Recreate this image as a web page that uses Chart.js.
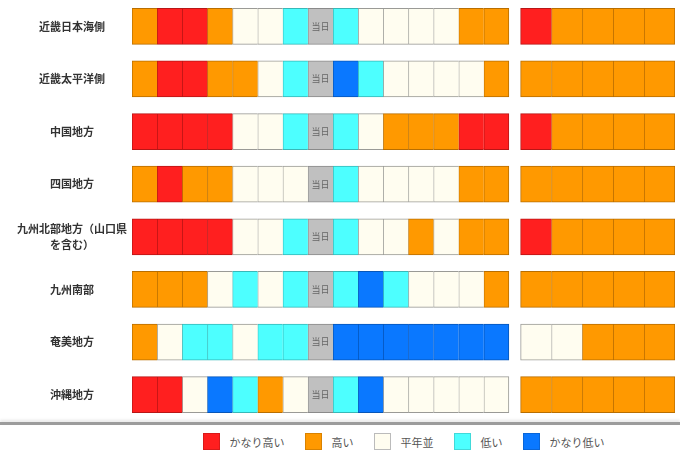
<!DOCTYPE html>
<html lang="ja">
<head>
<meta charset="utf-8">
<title>気温の傾向</title>
<script src="https://cdn.jsdelivr.net/npm/chart.js"></script>
<style>
  body { margin: 0; background: #fff; font-family: "Noto Sans CJK JP", "Noto Sans", sans-serif; }
  #wrap { position: relative; width: 680px; height: 421px; }
  #sep { width: 680px; height: 0; margin-top: 1px; border-top: 3px solid #9c9c9c; box-shadow: 0 -2px 3px #e6e6e6; }
  #legend { display: flex; justify-content: center; align-items: center; box-sizing: border-box;
            width: 680px; padding: 8px 5px 0 132px; }
  .item { display: flex; align-items: center; margin: 0 10px; }
  .box { width: 15px; height: 15px; border: 1px solid; margin-right: 10px; }
  .txt { font-size: 11px; color: #555; }
</style>
</head>
<body>
<div id="wrap"><canvas id="tempChart"></canvas></div>
<div id="sep"></div>
<div id="legend"></div>
<script>
// 地域
const regions = ['近畿日本海側', '近畿太平洋側', '中国地方', '四国地方',
  '九州北部地方（山口県を含む）', '九州南部', '奄美地方', '沖縄地方'];

// 階級 (5:かなり高い 4:高い 3:平年並 2:低い 1:かなり低い 0:当日)
const levelLabels = ['当日', 'かなり低い', '低い', '平年並', '高い', 'かなり高い'];
const levelColors = ['#c0c0c0', '#0a78ff', '#4dffff', '#fffdf0', '#ff9900', '#ff1f1f'];

// 日ごとの階級 (15日, 8列目が当日)
const dailyLevels = [
  [4, 5, 5, 4, 3, 3, 2, 0, 2, 3, 3, 3, 3, 4, 4],
  [4, 5, 5, 4, 4, 3, 2, 0, 1, 2, 3, 3, 3, 3, 4],
  [5, 5, 5, 5, 3, 3, 2, 0, 2, 3, 4, 4, 4, 5, 5],
  [4, 5, 4, 4, 3, 3, 3, 0, 2, 3, 3, 3, 3, 4, 4],
  [5, 5, 5, 5, 3, 3, 2, 0, 2, 3, 3, 4, 3, 4, 4],
  [4, 4, 4, 3, 2, 3, 2, 0, 2, 1, 2, 3, 3, 3, 4],
  [4, 3, 2, 2, 3, 2, 2, 0, 1, 1, 1, 1, 1, 1, 1],
  [5, 5, 3, 1, 2, 4, 3, 0, 2, 1, 3, 3, 3, 3, 3]
];

// 右側ブロックの階級 (5区分)
const periodLevels = [
  [5, 4, 4, 4, 4],
  [4, 4, 4, 4, 4],
  [5, 4, 4, 4, 4],
  [4, 4, 4, 4, 4],
  [5, 4, 4, 4, 4],
  [4, 4, 4, 4, 4],
  [3, 3, 4, 4, 4],
  [4, 4, 4, 4, 4]
];

const legendOrder = [5, 4, 3, 2, 1];

// layout of the two blocks in x units (one daily cell = 1)
const GAP = 0.466;
const RIGHT_W = 1.229;
const nDaily = dailyLevels[0].length;
const nPeriod = periodLevels[0].length;
const xMax = nDaily + GAP + nPeriod * RIGHT_W;

function darker(hex, f) {
  const n = parseInt(hex.slice(1), 16);
  const r = Math.round(((n >> 16) & 255) * f);
  const g = Math.round(((n >> 8) & 255) * f);
  const b = Math.round((n & 255) * f);
  return 'rgb(' + r + ',' + g + ',' + b + ')';
}

function makeColumn(levels, col, x0, x1, last) {
  const vals = levels.map(row => row[col]);
  return {
    data: regions.map(() => [x0, x1]),
    levels: vals,
    backgroundColor: vals.map(v => levelColors[v]),
    borderColor: vals.map(v => v === 3 ? '#9a9a96' : darker(levelColors[v], 0.72)),
    borderWidth: { left: 1, top: 1, bottom: 1, right: last ? 1 : 0 },
    borderSkipped: false,
    grouped: false,
    barThickness: 36
  };
}

const datasets = [];
for (let j = 0; j < nDaily; j++) {
  datasets.push(makeColumn(dailyLevels, j, j, j + 1, j === nDaily - 1));
}
for (let k = 0; k < nPeriod; k++) {
  const s = nDaily + GAP + k * RIGHT_W;
  datasets.push(makeColumn(periodLevels, k, s, s + RIGHT_W, k === nPeriod - 1));
}

// "当日" text on the gray cells
const todayLabel = {
  id: 'todayLabel',
  afterDatasetsDraw(chart) {
    const ctx = chart.ctx;
    ctx.save();
    ctx.font = '9px "Noto Sans CJK JP"';
    ctx.fillStyle = '#666';
    ctx.textAlign = 'center';
    ctx.textBaseline = 'middle';
    chart.data.datasets.forEach((ds, di) => {
      const meta = chart.getDatasetMeta(di);
      meta.data.forEach((bar, i) => {
        if (ds.levels[i] === 0) {
          const p = bar.getCenterPoint();
          ctx.fillText(levelLabels[0], p.x, p.y);
        }
      });
    });
    ctx.restore();
  }
};

const ctx = document.getElementById('tempChart').getContext('2d');
const chart = new Chart(ctx, {
  type: 'bar',
  data: { labels: regions, datasets: datasets },
  options: {
    indexAxis: 'y',
    responsive: true,
    maintainAspectRatio: false,
    animation: false,
    layout: { padding: { left: 0, right: 5, top: 0, bottom: 0 } },
    plugins: {
      legend: { display: false },
      tooltip: { enabled: false }
    },
    scales: {
      x: { type: 'linear', min: 0, max: xMax, display: false },
      y: {
        grid: { display: false, drawTicks: false },
        border: { display: false },
        afterFit: (scale) => {
          scale.width = 132;
          scale.paddingTop = 0;
          scale.paddingBottom = 0;
        },
        ticks: {
          padding: 5,
          crossAlign: 'center',
          color: '#333',
          font: { family: '"Noto Sans CJK JP"', size: 11, weight: 'bold', lineHeight: 1.5 },
          callback: function (value) {
            const name = this.getLabelForValue(value);
            return name.length > 10 ? [name.slice(0, 10), name.slice(10)] : name;
          }
        }
      }
    }
  },
  plugins: [todayLabel]
});

// legend
const legend = document.getElementById('legend');
legendOrder.forEach(v => {
  const item = document.createElement('div');
  item.className = 'item';
  const box = document.createElement('span');
  box.className = 'box';
  box.style.background = levelColors[v];
  box.style.borderColor = v === 3 ? '#bbb' : darker(levelColors[v], 0.85);
  const txt = document.createElement('span');
  txt.className = 'txt';
  txt.textContent = levelLabels[v];
  item.appendChild(box);
  item.appendChild(txt);
  legend.appendChild(item);
});
</script>
</body>
</html>
